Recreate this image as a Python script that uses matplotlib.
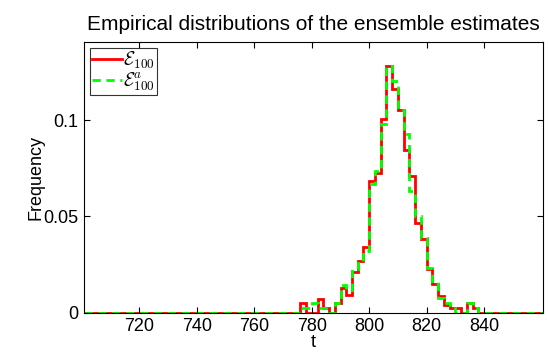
import numpy as np
import matplotlib
matplotlib.use('Agg')
import matplotlib.pyplot as plt

plt.rcParams['font.family'] = ['Liberation Sans', 'DejaVu Sans']
plt.rcParams['mathtext.fontset'] = 'cm'

# histogram bins (width 2) covering the non-zero part; zero elsewhere
edge_start = 774
bin_width = 2
freq_e100 = [0, 0.0047, 0, 0, 0.0068, 0.0024, 0, 0.0047, 0.0125, 0.0090,
             0.0212, 0.0267, 0.0340, 0.0684, 0.0724, 0.1005, 0.1280, 0.1160,
             0.1050, 0.0845, 0.0707, 0.0464, 0.0384, 0.0224, 0.0146, 0.0085,
             0.0040, 0.0024, 0.0024, 0, 0.0047, 0.0024, 0]
freq_e100a = [0, 0.0024, 0.0024, 0.0047, 0.0024, 0.0024, 0, 0.0047, 0.0142, 0.0118,
              0.0225, 0.0255, 0.0320, 0.0667, 0.0735, 0.0980, 0.1280, 0.1205,
              0.1055, 0.0927, 0.0630, 0.0500, 0.0385, 0.0230, 0.0163, 0.0076,
              0.0050, 0.0024, 0, 0, 0.0050, 0.0024, 0]
x_range = (700.7, 860.5)

fig = plt.figure(figsize=(5.48, 3.59), dpi=100)
ax = fig.add_axes([0.1533, 0.1295, 0.8376, 0.7535])

edges = edge_start + bin_width * np.arange(len(freq_e100) + 1)

def padded(vals):
    # extend with zeros to both axis limits
    e = np.concatenate([[x_range[0]], edges, [x_range[1]]])
    v = np.concatenate([[0], vals, [0]])
    return e, v

e, v = padded(freq_e100)
ax.stairs(v, e, color='#ff0000', lw=2.0, label=r'$\mathcal{E}_{100}$', baseline=None)
e, v = padded(freq_e100a)
ax.stairs(v, e, color='#00ff00', lw=2.0, ls=(0, (3, 2)), label=r'$\mathcal{E}^{a}_{100}$', baseline=None)

ax.set_xlim(*x_range)
ax.set_ylim(0, 0.1406)
ax.set_xticks([720, 740, 760, 780, 800, 820, 840])
ax.set_yticks([0, 0.05, 0.1])
ax.set_yticklabels(['0', '0.05', '0.1'])
ax.tick_params(direction='in', top=True, right=True, length=4, width=0.8,
               labelsize=13, pad=4)
for s in ax.spines.values():
    s.set_linewidth(0.8)

ax.set_xlabel('t', fontsize=13, labelpad=-1)
ax.set_ylabel('Frequency', fontsize=13, labelpad=-1)
ax.set_title('Empirical distributions of the ensemble estimates', fontsize=15, pad=9)

leg = ax.legend(loc='upper left', fontsize=13.5, frameon=True, fancybox=False,
                borderpad=0.1, handlelength=1.6, handletextpad=0.1,
                labelspacing=0.0, borderaxespad=0.3, edgecolor='black')
leg.get_frame().set_linewidth(0.8)

fig.savefig('out.png', dpi=100)
